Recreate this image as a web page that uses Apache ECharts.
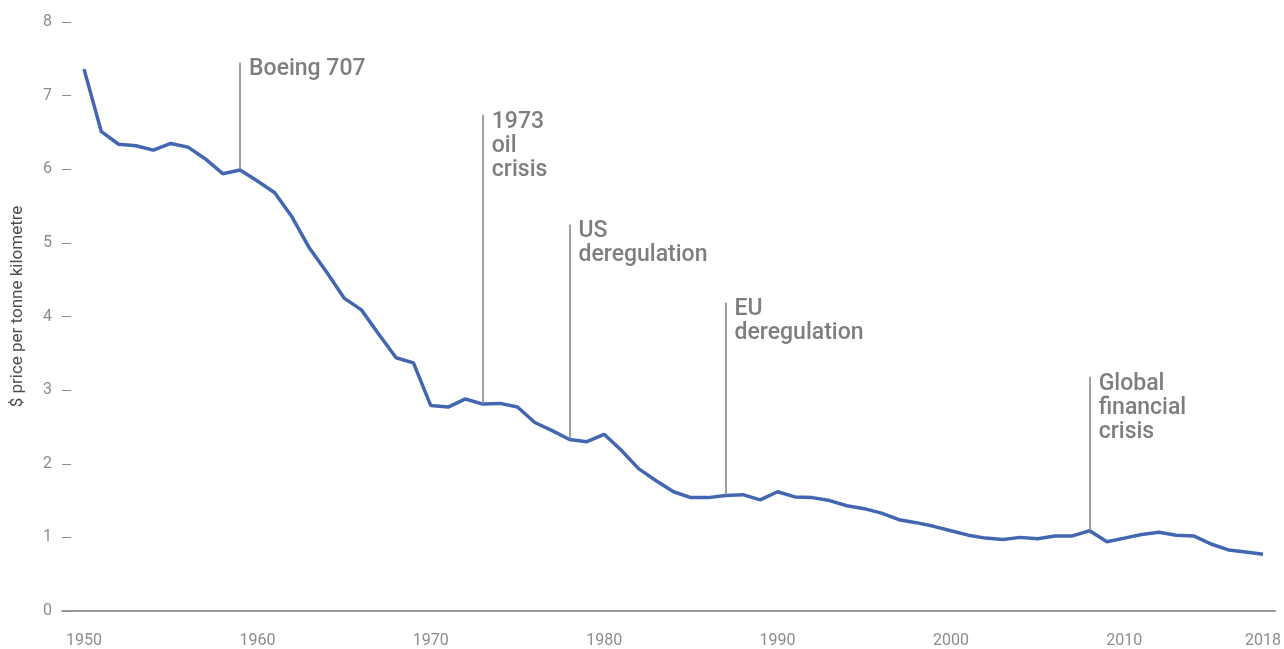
<!DOCTYPE html>
<html>
<head>
<meta charset="utf-8">
<title>Air freight price per tonne kilometre</title>
<script src="https://cdn.jsdelivr.net/npm/echarts@6/dist/echarts.min.js"></script>
<style>
  html, body { margin: 0; padding: 0; background: #fff; }
  #chart { width: 1284px; height: 649px; }
</style>
</head>
<body>
<div id="chart"></div>
<script>
// yearly price, $ per tonne kilometre
const years = []
for (let y = 1950; y <= 2018; y++) years.push(y)
const prices = [
  7.36, 6.51, 6.34, 6.32, 6.26, 6.35, 6.30, 6.14, 5.94, 5.99,
  5.84, 5.68, 5.35, 4.93, 4.60, 4.25, 4.09, 3.76, 3.44, 3.37,
  2.79, 2.77, 2.88, 2.81, 2.82, 2.77, 2.56, 2.45, 2.33, 2.30,
  2.40, 2.18, 1.93, 1.77, 1.62, 1.54, 1.54, 1.57, 1.58, 1.51,
  1.62, 1.55, 1.54, 1.50, 1.43, 1.39, 1.33, 1.24, 1.20, 1.15,
  1.09, 1.03, 0.99, 0.97, 1.00, 0.98, 1.02, 1.02, 1.09, 0.94,
  0.99, 1.04, 1.07, 1.03, 1.02, 0.91, 0.83, 0.80, 0.77
]
const xTickYears = [1950, 1960, 1970, 1980, 1990, 2000, 2010, 2018]

// annotations: year, top of the marker line, text
const annoYears = [1959, 1973, 1978, 1987, 2008]
const annoTops = [7.45, 6.74, 5.25, 4.19, 3.18]
const annoTexts = ['Boeing 707', '1973\noil\ncrisis', 'US\nderegulation', 'EU\nderegulation', 'Global\nfinancial\ncrisis']

const chart = echarts.init(document.getElementById('chart'))

const lineData = years.map((y, i) => [y, prices[i]])
const markLines = annoYears.map((y, i) => [
  { coord: [y, annoTops[i]] },
  { coord: [y, prices[years.indexOf(y)]] }
])
const annoData = annoYears.map((y, i) => [y, annoTops[i], annoTexts[i]])

chart.setOption({
  animation: false,
  textStyle: { fontFamily: 'Roboto' },
  grid: { left: 62, right: 7, top: 22, bottom: 36, containLabel: false },
  xAxis: {
    type: 'value',
    min: 1948.73,
    max: 2018.72,
    axisLine: { show: true, lineStyle: { color: '#7a7a7a', width: 1.5 } },
    axisTick: { show: false },
    splitLine: { show: false },
    axisLabel: {
      customValues: xTickYears,
      margin: 22,
      color: '#8c8c8c',
      fontSize: 16,
      formatter: v => String(v)
    }
  },
  yAxis: {
    type: 'value',
    min: 0,
    max: 8,
    interval: 1,
    name: '$ price per tonne kilometre',
    nameLocation: 'middle',
    nameGap: 36,
    nameTextStyle: { color: '#4d4d4d', fontSize: 17, padding: [0, 0, 0, 20] },
    axisLine: { show: false },
    axisTick: { show: true, inside: true, length: 9, lineStyle: { color: '#8c8c8c', width: 1 } },
    splitLine: { show: false },
    axisLabel: { color: '#8c8c8c', fontSize: 16, margin: 10, padding: [0, 0, 4, 0] }
  },
  series: [
    {
      name: 'price',
      type: 'line',
      data: lineData,
      symbol: 'none',
      lineStyle: { color: '#4267b0', width: 3.5 },
      z: 3,
      markLine: {
        silent: true,
        symbol: 'none',
        label: { show: false },
        lineStyle: { color: '#808080', width: 1.5, type: 'solid' },
        data: markLines
      }
    },
    {
      name: 'events',
      type: 'scatter',
      data: annoData,
      symbolSize: 0,
      silent: true,
      label: {
        show: true,
        position: [9, -5],
        align: 'left',
        verticalAlign: 'top',
        formatter: p => p.value[2],
        color: '#5e5e5e',
        fontWeight: 500,
        fontSize: 23,
        lineHeight: 24
      }
    }
  ]
})
</script>
</body>
</html>
